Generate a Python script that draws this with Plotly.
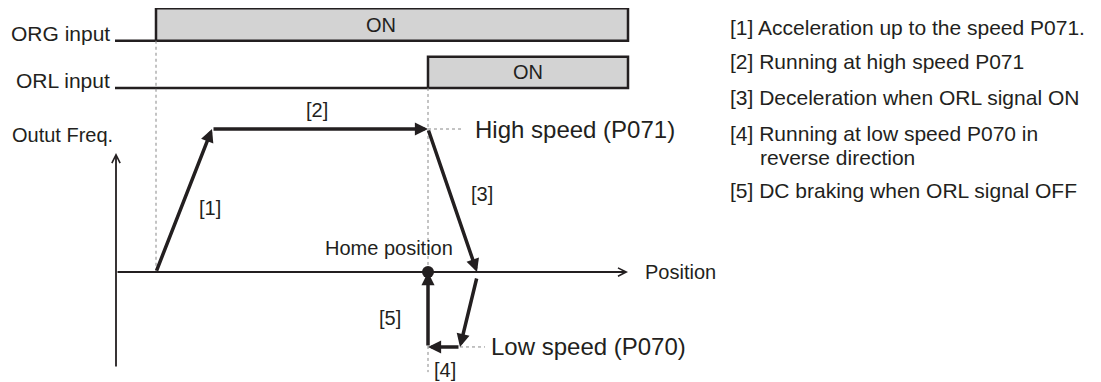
import plotly.graph_objects as go

# diagram units: position along x (1 unit ~ 10 px), output frequency along y (high speed = 10)
# (the page body adds an 8 px margin, so the figure is 8 px smaller than the window)
x_range = [-10.8, 98.5]
y_range = [-7.69, 18.46]

# input signals
signal_names = ["ORG input", "ORL input"]
signal_base = [16.17, 12.87]
signal_high = [18.44, 15.06]
signal_on = [4.0, 31.2]
signal_start = -0.1
signal_end = 51.2
signal_on_text_x = [26.5, 41.2]

# output frequency profile: forward run, then reverse run back to home
fwd_pos = [4.0, 9.6, 31.2, 36.1]
fwd_freq = [0, 10, 10, 0]
rev_pos = [36.1, 34.4, 31.2, 31.2]
rev_freq = [-0.35, -5.24, -5.24, 0]
home_pos = 31.2
high_freq = 10
low_freq = -5.24

# axes of the frequency / position graph
freq_axis_y = [-6.71, 8.32]
pos_axis_x = [0, 51.2]
guide_bottom = -7.0

seg_labels = ["[1]", "[2]", "[3]", "[4]", "[5]"]
seg_label_x = [9.4, 20.1, 36.6, 32.9, 27.4]
seg_label_y = [4.48, 11.33, 5.45, -6.82, -3.22]

notes = [
    "[1] Acceleration up to the speed P071.",
    "[2] Running at high speed P071",
    "[3] Deceleration when ORL signal ON",
    "[4] Running at low speed P070 in",
    "reverse direction",
    "[5] DC braking when ORL signal OFF",
]
note_x = [61.2, 61.2, 61.2, 61.2, 64.2, 61.2]
note_y = [17.13, 14.69, 12.17, 9.72, 8.04, 5.73]

INK = "#231f20"
FONT = "Liberation Sans, Arial, Helvetica, sans-serif"

fig = go.Figure()

# signal waveforms (low line + ON box)
for i, name in enumerate(signal_names):
    xs = [signal_start, signal_on[i], signal_on[i], signal_end, signal_end, signal_on[i]]
    ys = [signal_base[i], signal_base[i], signal_high[i], signal_high[i], signal_base[i], signal_base[i]]
    fig.add_trace(go.Scatter(x=xs, y=ys, mode="lines", fill="toself", fillcolor="#d3d3d3",
                             line=dict(color=INK, width=2.5), hoverinfo="skip"))

# dotted guides from the signal edges
fig.add_trace(go.Scatter(x=[signal_on[0], signal_on[0]], y=[signal_base[0], 0], mode="lines",
                         line=dict(color="#888888", width=1, dash="dot"), hoverinfo="skip"))
fig.add_trace(go.Scatter(x=[signal_on[1], signal_on[1]], y=[signal_base[1], guide_bottom], mode="lines",
                         line=dict(color="#888888", width=1, dash="dot"), hoverinfo="skip"))
fig.add_trace(go.Scatter(x=[fwd_pos[2], fwd_pos[2] + 3.5], y=[high_freq, high_freq], mode="lines",
                         line=dict(color="#888888", width=1, dash="dot"), hoverinfo="skip"))
fig.add_trace(go.Scatter(x=[rev_pos[1], rev_pos[1] + 2.5], y=[low_freq, low_freq], mode="lines",
                         line=dict(color="#888888", width=1, dash="dot"), hoverinfo="skip"))

annotations = []

# axes with open arrow heads
annotations.append(dict(x=0, y=freq_axis_y[1], ax=0, ay=freq_axis_y[0], xref="x", yref="y",
                        axref="x", ayref="y", text="", showarrow=True, arrowhead=5,
                        arrowsize=0.9, arrowwidth=1.8, arrowcolor=INK))
annotations.append(dict(x=pos_axis_x[1], y=0, ax=pos_axis_x[0], ay=0, xref="x", yref="y",
                        axref="x", ayref="y", text="", showarrow=True, arrowhead=5,
                        arrowsize=0.9, arrowwidth=1.8, arrowcolor=INK))

# profile segments as arrows
for pos, freq in [(fwd_pos, fwd_freq), (rev_pos, rev_freq)]:
    for i in range(len(pos) - 1):
        annotations.append(dict(x=pos[i + 1], y=freq[i + 1], ax=pos[i], ay=freq[i],
                                xref="x", yref="y", axref="x", ayref="y", text="",
                                showarrow=True, arrowhead=2, arrowsize=0.75,
                                arrowwidth=3.5, arrowcolor=INK))

fig.add_trace(go.Scatter(x=[home_pos], y=[0], mode="markers",
                         marker=dict(size=12, color=INK), hoverinfo="skip"))


def label(text, x, y, size=20, anchor="center"):
    annotations.append(dict(x=x, y=y, xref="x", yref="y", text=text, showarrow=False,
                            xanchor=anchor, yanchor="middle",
                            font=dict(family=FONT, size=size, color=INK)))


for i, name in enumerate(signal_names):
    label(name, -0.4, signal_base[i] + 0.5, 21, "right")
    label("ON", signal_on_text_x[i], (signal_base[i] + signal_high[i]) / 2, 20)

label("Outut Freq.", -10.6, 9.58, 20, "left")
for t, x, y in zip(seg_labels, seg_label_x, seg_label_y):
    label(t, x, y, 20)
label("Home position", 27.3, 1.68, 20)
label("High speed (P071)", 35.7, high_freq, 24, "left")
label("Low speed (P070)", 37.3, low_freq, 24, "left")
label("Position", 52.7, 0, 20, "left")

for t, x, y in zip(notes, note_x, note_y):
    label(t, x, y, 21, "left")

fig.update_layout(
    width=1093, height=374,
    margin=dict(l=0, r=0, t=0, b=0),
    paper_bgcolor="white", plot_bgcolor="white",
    showlegend=False,
    annotations=annotations,
    xaxis=dict(range=x_range, visible=False, fixedrange=True),
    yaxis=dict(range=y_range, visible=False, fixedrange=True),
)

fig.write_html("out.html")
